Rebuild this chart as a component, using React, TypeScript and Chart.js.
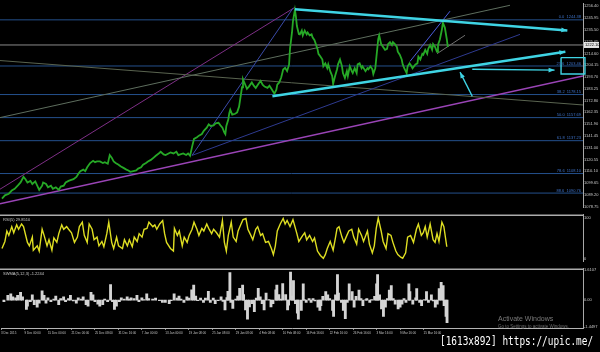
import React, { useEffect, useRef } from "react";
import { Chart, registerables } from "chart.js";
Chart.register(...registerables);

const FONT = '"Liberation Sans", Arial, sans-serif';
const X_MAX = 595; // bars shown across the plot width

// ---- main price pane (bar index, price) ----
const pricePoints: [number, number][] = [
  [2,1085.9],[5,1088.8],[9,1090.2],[12,1093.0],[15,1094.5],[19,1098.2],[21,1100.2],[24,1105.1],[26,1103.1],[28,1100.2],
  [31,1101.6],[33,1098.8],[36,1101.1],[38,1097.3],[40,1093.6],[43,1097.3],[44,1100.2],[47,1098.8],[49,1095.9],[52,1097.3],
  [54,1094.5],[57,1095.9],[60,1093.6],[62,1096.5],[65,1097.3],[67,1100.2],[70,1101.6],[72,1102.2],[75,1103.1],[78,1105.1],
  [80,1107.9],[82,1110.2],[85,1111.6],[87,1110.2],[89,1113.6],[92,1117.4],[95,1119.4],[97,1118.2],[99,1118.8],[102,1118.8],
  [105,1117.4],[107,1118.2],[110,1116.8],[112,1124.5],[114,1122.2],[116,1118.8],[118,1117.4],[121,1115.9],[123,1114.5],[126,1113.1],
  [129,1111.6],[131,1110.8],[133,1109.6],[136,1110.2],[139,1110.8],[141,1112.5],[144,1113.6],[146,1115.9],[149,1117.4],[151,1118.8],
  [154,1120.2],[156,1121.6],[159,1123.9],[162,1125.9],[164,1127.4],[167,1125.1],[169,1124.5],[172,1125.9],[174,1126.8],[177,1125.9],
  [180,1127.4],[182,1124.5],[184,1125.1],[187,1125.9],[190,1124.5],[192,1125.9],[194,1123.9],[196,1131.7],[198,1138.8],[201,1140.3],
  [203,1141.7],[206,1143.1],[208,1146.0],[211,1148.8],[213,1151.7],[215,1150.3],[218,1150.8],[220,1152.6],[223,1153.1],[225,1150.8],
  [227,1148.8],[229,1144.5],[230,1143.1],[231,1150.3],[233,1156.0],[234,1161.7],[235,1164.6],[237,1160.3],[240,1161.1],[242,1162.3],
  [244,1167.4],[245,1173.1],[247,1184.6],[248,1191.7],[250,1187.5],[252,1183.2],[254,1185.2],[257,1188.9],[259,1186.0],[261,1184.0],
  [264,1188.0],[266,1190.3],[268,1186.9],[270,1185.2],[273,1184.0],[275,1186.0],[277,1183.2],[280,1178.9],[282,1182.3],[283,1186.9],
  [285,1188.9],[287,1193.2],[289,1200.3],[291,1201.8],[293,1198.9],[295,1204.6],[296,1218.9],[298,1233.2],[299,1243.2],[301,1253.2],
  [302,1247.5],[303,1238.9],[305,1231.8],[306,1231.5],[308,1234.9],[309,1230.6],[311,1234.9],[313,1231.5],[314,1233.2],[316,1230.6],
  [318,1231.5],[319,1228.9],[321,1226.4],[324,1218.6],[325,1214.3],[327,1211.8],[329,1209.2],[330,1203.2],[332,1205.8],[334,1201.5],
  [335,1204.9],[337,1198.9],[339,1194.6],[340,1187.7],[342,1194.6],[344,1200.6],[345,1204.9],[347,1209.2],[349,1203.2],[350,1197.2],
  [352,1192.9],[354,1198.9],[355,1194.6],[357,1203.2],[359,1198.9],[360,1197.2],[362,1201.5],[364,1197.2],[365,1204.9],[367,1205.8],
  [369,1201.5],[370,1203.2],[373,1198.9],[375,1201.5],[376,1200.6],[378,1203.2],[380,1200.6],[381,1196.3],[383,1201.5],[385,1218.6],
  [386,1227.2],[387,1230.6],[389,1222.9],[391,1220.4],[393,1217.8],[395,1218.6],[396,1222.9],[398,1224.6],[400,1222.1],[401,1224.6],
  [403,1222.9],[405,1220.4],[406,1216.1],[408,1213.5],[410,1209.2],[411,1204.9],[413,1200.6],[415,1197.2],[416,1203.2],[418,1205.8],
  [420,1203.2],[421,1201.5],[424,1204.9],[426,1205.8],[427,1211.8],[429,1209.2],[431,1214.3],[432,1213.5],[434,1217.8],[436,1214.3],
  [437,1218.6],[439,1222.1],[441,1217.8],[442,1222.9],[444,1220.4],[446,1216.1],[447,1222.1],[449,1227.2],[451,1235.8],[452,1241.8],
  [454,1237.5],[456,1227.2],[457,1220.4],
];
const bidPrice = 1222.1;
const priceMin = 1077.89;
const priceMax = 1258.97;
const priceTicks = [1256.40,1245.95,1235.50,1225.05,1214.60,1204.15,1193.70,1183.25,1172.80,1162.35,1151.90,1141.45,1131.00,1120.55,1110.10,1099.65,1089.20,1078.75];

const fibNames = ["0.0","23.6","38.2","50.0","61.8","78.6","88.6"];
const fibLevels = [1244.38,1203.46,1178.15,1157.69,1137.23,1108.10,1090.76];

// drawn objects: [bar, price] end points
const cyanUpper: [number, number][] = [[301,1253.8],[579,1235.0]];
const cyanLower: [number, number][] = [[278,1176.6],[577,1216.1]];
const cyanFlat: [number, number][] = [[482,1200.6],[566,1199.8]];
const cyanPointer: [number, number][] = [[482,1176.6],[469.5,1198.0]];
const cyanBox: [number, number][] = [[572.6,1210.9],[597,1210.9],[597,1196.3],[572.6,1196.3],[572.6,1210.9]];
const blueShortSteep: [number, number][] = [[418.4,1207.5],[459.3,1252.1]];
const greyShort: [number, number][] = [[446,1214.4],[474.6,1230.7]];
const blueSteep: [number, number][] = [[196,1124.2],[299,1254.7]];
const blueChannel: [number, number][] = [[196,1124.2],[530.7,1231.5]];
const greyRise: [number, number][] = [[0,1157.7],[520.5,1257.3]];
const greyFall: [number, number][] = [[0,1208.3],[595,1168.9]];
const purpleUpper: [number, number][] = [[0,1094.2],[301,1255.5]];
const purpleLower: [number, number][] = [[0,1081.3],[595,1194.6]];

// ---- RSI pane ----
const rsiLabel = "RSI(5) 29.8510";
const rsiPoints: [number, number][] = [
  [2,25.5],[5,42.6],[7,68.1],[9,57.4],[12,78.7],[14,63.8],[17,83.0],[19,72.3],[22,85.1],[24,78.7],
  [28,40.4],[30,31.9],[33,53.2],[34,21.3],[38,31.9],[40,19.2],[43,72.3],[45,57.4],[48,31.9],[50,46.8],
  [53,21.3],[55,51.1],[58,40.4],[60,61.7],[63,83.0],[65,72.3],[68,78.7],[70,72.3],[73,63.8],[76,40.4],
  [79,53.2],[81,78.7],[84,89.4],[86,57.4],[89,40.4],[91,85.1],[94,72.3],[96,46.8],[99,53.2],[101,31.9],
  [104,42.6],[106,29.8],[109,61.7],[111,89.4],[114,40.4],[116,25.5],[119,53.2],[121,31.9],[125,25.5],[127,46.8],
  [130,31.9],[132,46.8],[135,29.8],[137,53.2],[140,42.6],[142,61.7],[145,53.2],[147,72.3],[150,74.5],[152,89.4],
  [156,78.7],[158,83.0],[160,72.3],[163,85.1],[166,93.6],[168,61.7],[170,40.4],[174,25.5],[177,19.2],[178,74.5],
  [181,57.4],[183,68.1],[186,31.9],[188,53.2],[191,40.4],[193,57.4],[196,72.3],[198,89.4],[201,72.3],[203,57.4],
  [206,74.5],[208,68.1],[211,85.1],[213,74.5],[216,61.7],[218,72.3],[221,63.8],[224,53.2],[227,93.6],[229,40.4],
  [231,19.2],[233,57.4],[236,89.4],[238,53.2],[241,42.6],[243,68.1],[246,85.1],[248,95.8],[251,98.5],[253,72.3],
  [256,57.4],[258,46.8],[261,72.3],[263,78.7],[266,57.4],[268,61.7],[271,40.4],[274,42.6],[277,25.5],[279,10.6],
  [281,31.9],[283,68.1],[286,85.1],[289,98.5],[291,85.1],[293,93.6],[296,78.7],[299,95.8],[301,78.7],[303,61.7],
  [305,42.6],[309,57.4],[311,63.8],[313,46.8],[316,57.4],[319,42.6],[321,51.1],[324,19.2],[327,8.5],[330,1.5],
  [332,10.6],[334,25.5],[337,42.6],[340,21.3],[342,46.8],[344,74.5],[346,78.7],[349,53.2],[351,40.4],[354,57.4],
  [356,68.1],[359,72.3],[361,53.2],[364,36.2],[366,72.3],[369,57.4],[371,42.6],[375,68.1],[377,36.2],[380,14.9],
  [382,31.9],[384,74.5],[386,99.5],[389,68.1],[391,42.6],[394,25.5],[396,61.7],[399,57.4],[401,40.4],[404,19.2],
  [406,10.6],[409,4.3],[411,1.5],[414,14.9],[416,53.2],[419,57.4],[422,40.4],[425,72.3],[427,85.1],[430,57.4],
  [432,63.8],[434,78.7],[436,53.2],[439,85.1],[442,46.8],[444,40.4],[446,61.7],[448,42.6],[451,89.4],[453,78.7],
  [456,29.8],
];
const rsiTicks = [100, 0];

// ---- oscillator histogram pane ----
const histLabel = "SWMA(5,12,3) -1.2244";
const histPoints: [number, number][] = [
  [3,-0.08],[7,0.25],[10,0.33],[12,0.17],[15,0.12],[17,0.25],[20,0.42],[22,0.17],[26,-0.5],[27,-0.33],
  [30,-0.08],[32,0.28],[34,-0.25],[37,-0.38],[39,-0.17],[42,0.5],[44,0.25],[46,-0.17],[48,0.12],[51,-0.08],
  [54,0.05],[56,0.22],[59,-0.25],[61,0.08],[64,0.17],[66,-0.08],[69,0.08],[71,0.25],[74,-0.05],[77,-0.17],
  [79,0.12],[82,0.05],[84,0.17],[87,-0.25],[89,-0.33],[92,0.42],[94,0.28],[96,-0.08],[99,-0.22],[101,-0.33],
  [104,-0.25],[106,0.05],[109,-0.08],[112,0.83],[114,-0.08],[116,-0.5],[118,-0.33],[121,-0.08],[123,0.12],[126,0.05],
  [129,0.17],[131,0.05],[133,0.12],[136,0.08],[139,0.25],[141,-0.08],[144,0.12],[146,0.02],[149,0.33],[151,0.08],
  [155,0.05],[158,0.1],[162,-0.03],[165,-0.12],[168,-0.12],[172,-0.2],[174,-0.03],[177,0.33],[180,0.1],[182,0.22],
  [184,0.05],[187,-0.12],[190,0.17],[192,0.1],[195,0.55],[197,0.8],[199,0.22],[201,-0.03],[204,0.1],[207,-0.12],
  [209,0.1],[212,0.47],[214,-0.12],[217,0.1],[219,-0.2],[222,-0.03],[225,0.17],[227,-0.07],[229,-0.53],[231,0.13],
  [232,0.47],[234,1.47],[235,-0.12],[237,-0.45],[240,0.05],[242,0.22],[244,0.63],[247,0.8],[248,0.3],[250,-0.53],
  [252,-1.03],[254,-0.37],[257,-0.2],[259,-0.62],[261,0.1],[263,0.63],[265,0.17],[267,-0.2],[269,-0.53],[271,0.38],
  [274,0.02],[276,-0.37],[278,-0.2],[281,0.55],[282,0.8],[284,0.3],[286,0.05],[288,0.88],[291,0.3],[293,-0.53],
  [294,-0.28],[296,1.5],[298,0.22],[299,1.05],[301,-0.2],[303,-0.7],[304,-1.03],[307,-0.55],[309,0.87],[310,0.03],
  [312,-0.13],[315,0.08],[317,-0.13],[319,0.08],[321,-0.05],[324,-0.38],[326,-0.55],[327,-0.3],[329,0.2],[332,0.45],
  [334,0.28],[336,0.08],[339,-0.55],[340,-0.88],[342,0.28],[344,1.37],[345,0.37],[348,-0.13],[350,-0.55],[352,-1.0],
  [354,-0.13],[356,0.87],[359,0.45],[361,-0.38],[363,0.2],[366,0.53],[368,0.08],[370,-0.3],[373,0.02],[374,0.08],
  [377,-0.13],[379,0.02],[382,0.2],[384,0.87],[385,1.37],[387,0.28],[389,-0.47],[391,-0.88],[393,-0.38],[395,0.08],
  [397,0.53],[399,0.78],[401,0.08],[403,-0.22],[406,-0.47],[408,-0.38],[410,-0.22],[412,0.08],[414,-0.13],[417,0.87],
  [418,0.45],[421,-0.22],[424,0.12],[425,0.62],[428,-0.13],[430,-0.3],[433,0.03],[435,0.45],[437,-0.13],[440,0.28],
  [442,-0.05],[444,-0.38],[446,-0.22],[448,0.62],[450,0.95],[452,0.78],[453,-0.3],[455,-0.88],[456,-1.22],
];
const histMin = -1.5;
const histMax = 1.7;
const histTicks = [1.6107, 0, -1.4497];

// ---- time axis ----
const timeTickBars = [0,24,48,72,96,120,144,168,192,216,240,264,288,312,336,360,384,408,432];
const timeLabels = [
  "3 Dec 2015","9 Dec 00:00","15 Dec 00:00","21 Dec 00:00","25 Dec 08:00","31 Dec 16:00","7 Jan 00:00",
  "13 Jan 00:00","19 Jan 08:00","25 Jan 08:00","29 Jan 08:00","4 Feb 08:00","10 Feb 08:00","16 Feb 16:00",
  "22 Feb 16:00","26 Feb 16:00","3 Mar 16:00","9 Mar 16:00","15 Mar 16:00",
];

const toXY = (pts: [number, number][]) => pts.map(([x, y]) => ({ x, y }));
const seg = (pts: [number, number][], color: string, width: number, extra: any = {}) => ({
  type: "line",
  data: toXY(pts),
  borderColor: color,
  backgroundColor: color,
  borderWidth: width,
  pointRadius: 0,
  tension: 0,
  fill: false,
  ...extra,
});

const rightAxis = (min: number, max: number, ticks: number[], fmt: (v: number) => string) => ({
  position: "right",
  min,
  max,
  afterFit: (s: any) => { s.width = 17; },
  afterBuildTicks: (s: any) => { s.ticks = ticks.map((v) => ({ value: v })); },
  ticks: { font: { size: 4, family: FONT }, color: "#c8c8c8", padding: 1, callback: (v: any) => fmt(Number(v)) },
  grid: { display: false, drawTicks: false },
  border: { display: true, color: "#a8a8a8", width: 1 },
});

const hiddenX = { type: "linear", min: 0, max: X_MAX, display: false };

const mainOverlay = {
  id: "mainOverlay",
  afterDatasetsDraw(chart: any) {
    const { ctx, chartArea, scales } = chart;
    chart.data.datasets.forEach((ds: any, i: number) => {
      if (!ds.arrow) return;
      const pts = chart.getDatasetMeta(i).data;
      const a = pts[pts.length - 2];
      const b = pts[pts.length - 1];
      const ang = Math.atan2(b.y - a.y, b.x - a.x);
      const len = 6, half = 2.4;
      const bx = b.x - len * Math.cos(ang), by = b.y - len * Math.sin(ang);
      ctx.save();
      ctx.fillStyle = ds.borderColor;
      ctx.beginPath();
      ctx.moveTo(b.x, b.y);
      ctx.lineTo(bx + half * Math.sin(ang), by - half * Math.cos(ang));
      ctx.lineTo(bx - half * Math.sin(ang), by + half * Math.cos(ang));
      ctx.closePath();
      ctx.fill();
      ctx.restore();
    });
    ctx.save();
    ctx.font = `4px ${FONT}`;
    ctx.fillStyle = "#3d72c8";
    ctx.textAlign = "right";
    ctx.textBaseline = "bottom";
    fibLevels.forEach((v, i) => {
      const py = scales.y.getPixelForValue(v);
      ctx.fillText(`${fibNames[i]}  ${v.toFixed(2)}`, chartArea.right - 2, py - 0.5);
    });
    ctx.restore();
  },
  afterDraw(chart: any) {
    const { ctx, chartArea, scales, width } = chart;
    const py = scales.y.getPixelForValue(bidPrice);
    ctx.save();
    ctx.fillStyle = "#e6e6e6";
    ctx.fillRect(chartArea.right + 1, py - 3, width - chartArea.right - 2, 6);
    ctx.fillStyle = "#000";
    ctx.font = `4px ${FONT}`;
    ctx.textBaseline = "middle";
    ctx.fillText(bidPrice.toFixed(2), chartArea.right + 2, py + 0.3);
    ctx.restore();
  },
};

const paneOverlay = (label: string) => ({
  id: "pane" + label.length,
  afterDraw(chart: any) {
    const { ctx, chartArea } = chart;
    ctx.save();
    ctx.strokeStyle = "#ababab";
    ctx.lineWidth = 1.5;
    ctx.beginPath();
    ctx.moveTo(0, chartArea.top + 0.75);
    ctx.lineTo(chartArea.right, chartArea.top + 0.75);
    ctx.stroke();
    ctx.fillStyle = "#c8c8c8";
    ctx.font = `4px ${FONT}`;
    ctx.textBaseline = "top";
    ctx.fillText(label, 3, chartArea.top + 3);
    ctx.restore();
  },
});

const baseOptions = {
  animation: false,
  responsive: false,
  maintainAspectRatio: false,
  events: [],
  layout: { padding: 0, autoPadding: false },
  plugins: { legend: { display: false }, tooltip: { enabled: false } },
};

export default function App() {
  const mainRef = useRef<HTMLCanvasElement>(null);
  const rsiRef = useRef<HTMLCanvasElement>(null);
  const histRef = useRef<HTMLCanvasElement>(null);

  useEffect(() => {
    const cyan = "#3fd4e4";
    const mainDatasets: any[] = [
      seg(cyanUpper, cyan, 2.4, { arrow: true }),
      seg(cyanLower, cyan, 2.4, { arrow: true }),
      seg(cyanFlat, cyan, 1.4, { arrow: true }),
      seg(cyanPointer, cyan, 1.4, { arrow: true }),
      seg(cyanBox, cyan, 1.4, { clip: false }),
      seg(pricePoints, "#26a826", 1.8),
      seg(blueShortSteep, "#4c5cdc", 1),
      seg(greyShort, "#707070", 1),
      seg(blueSteep, "#3a4aa8", 1),
      seg(blueChannel, "#2e3a90", 1),
      seg(greyRise, "#5e6e5e", 1),
      seg(greyFall, "#5a6450", 1),
      seg(purpleUpper, "#7e2f86", 1),
      seg(purpleLower, "#9a44b6", 1.4),
      seg([[0, bidPrice], [X_MAX, bidPrice]], "#8a8a8a", 1),
      ...fibLevels.map((v) => seg([[0, v], [X_MAX, v]], "#24508c", 1)),
    ];

    const main = new Chart(mainRef.current as HTMLCanvasElement, {
      type: "line",
      data: { datasets: mainDatasets },
      options: {
        ...baseOptions,
        scales: {
          x: hiddenX,
          y: rightAxis(priceMin, priceMax, priceTicks, (v) => v.toFixed(2)),
        },
      } as any,
      plugins: [mainOverlay],
    } as any);

    const rsi = new Chart(rsiRef.current as HTMLCanvasElement, {
      type: "line",
      data: { datasets: [seg(rsiPoints, "#dede22", 1.4)] as any },
      options: {
        ...baseOptions,
        scales: {
          x: hiddenX,
          y: rightAxis(-6.4, 108.5, rsiTicks, (v) => String(v)),
        },
      } as any,
      plugins: [paneOverlay(rsiLabel)],
    } as any);

    const hist = new Chart(histRef.current as HTMLCanvasElement, {
      type: "bar",
      data: {
        datasets: [
          {
            data: toXY(histPoints),
            backgroundColor: "#d4d4d4",
            borderWidth: 0,
            barThickness: 2.2,
          },
        ],
      } as any,
      options: {
        ...baseOptions,
        scales: {
          x: {
            type: "linear",
            min: 0,
            max: X_MAX,
            offset: false,
            position: "bottom",
            afterFit: (s: any) => { s.height = 12; },
            afterBuildTicks: (s: any) => { s.ticks = timeTickBars.map((v) => ({ value: v })); },
            ticks: {
              font: { size: 3, family: FONT },
              color: "#c4c4c4",
              padding: 1,
              align: "start",
              maxRotation: 0,
              minRotation: 0,
              autoSkip: false,
              callback: (_v: any, i: number) => timeLabels[i] ?? "",
            },
            grid: { display: true, offset: false, drawOnChartArea: false, drawTicks: true, tickLength: 2, color: "#8c8c8c" },
            border: { display: true, color: "#b4b4b4", width: 1 },
          },
          y: rightAxis(histMin, histMax, histTicks, (v) => (v === 0 ? "0.00" : v.toFixed(4))),
        },
      } as any,
      plugins: [paneOverlay(histLabel)],
    } as any);

    return () => {
      main.destroy();
      rsi.destroy();
      hist.destroy();
    };
  }, []);

  return (
    <div style={{ position: "absolute", left: 0, top: 0, width: 600, height: 352, background: "#000", overflow: "hidden" }}>
      <canvas ref={mainRef} width={600} height={211} style={{ position: "absolute", left: 0, top: 0 }} />
      <canvas ref={rsiRef} width={600} height={54} style={{ position: "absolute", left: 0, top: 211 }} />
      <canvas ref={histRef} width={600} height={75} style={{ position: "absolute", left: 0, top: 265 }} />
      <div style={{ position: "absolute", left: 498, top: 315, color: "#7a7a7a", font: `7px ${FONT}`, whiteSpace: "nowrap" }}>
        Activate Windows
      </div>
      <div style={{ position: "absolute", left: 498, top: 324, color: "#6a6a6a", font: `4.5px ${FONT}`, whiteSpace: "nowrap" }}>
        Go to Settings to activate Windows.
      </div>
      <div
        style={{
          position: "absolute",
          left: 440,
          top: 334,
          color: "#ffffff",
          font: '12px "DejaVu Sans Mono", monospace',
          lineHeight: "14px",
          whiteSpace: "nowrap",
          transform: "scaleX(0.785)",
          transformOrigin: "left top",
        }}
      >
        [1613x892] https://upic.me/
      </div>
    </div>
  );
}
